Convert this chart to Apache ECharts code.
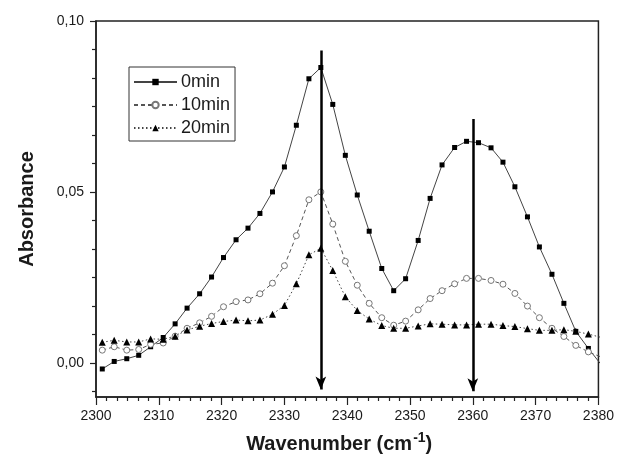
<!DOCTYPE html>
<html>
<head>
<meta charset="utf-8">
<script src="https://cdn.jsdelivr.net/npm/echarts@6/dist/echarts.min.js"></script>
<style>
  html, body { margin: 0; padding: 0; background: #fff; }
  #chart { width: 617px; height: 468px; }
</style>
</head>
<body>
<div id="chart"></div>
<script>
// Wavenumber positions of the recorded spectral points (cm^-1)
const wavenumber = [
  2301.0, 2302.9, 2304.9, 2306.8, 2308.7, 2310.7, 2312.6, 2314.5, 2316.5, 2318.4,
  2320.3, 2322.3, 2324.2, 2326.1, 2328.1, 2330.0, 2331.9, 2333.9, 2335.8, 2337.7,
  2339.7, 2341.6, 2343.5, 2345.5, 2347.4, 2349.3, 2351.3, 2353.2, 2355.1, 2357.1,
  2359.0, 2360.9, 2362.9, 2364.8, 2366.7, 2368.7, 2370.6, 2372.6, 2374.5, 2376.4,
  2378.4, 2380.3
];

// Absorbance after 0, 10 and 20 minutes
const abs0min = [
  -0.0018, 0.0004, 0.0012, 0.0022, 0.0047, 0.0074, 0.0114, 0.0160, 0.0202, 0.0251,
  0.0308, 0.0360, 0.0394, 0.0437, 0.0500, 0.0573, 0.0695, 0.0831, 0.0864, 0.0756,
  0.0607, 0.0491, 0.0385, 0.0276, 0.0211, 0.0246, 0.0358, 0.0481, 0.0579, 0.0630,
  0.0648, 0.0644, 0.0629, 0.0587, 0.0515, 0.0427, 0.0339, 0.0259, 0.0174, 0.0092,
  0.0042, -0.0002
];
const abs10min = [
  0.0037, 0.0047, 0.0037, 0.0039, 0.0054, 0.0058, 0.0078, 0.0101, 0.0117, 0.0136,
  0.0164, 0.0179, 0.0184, 0.0202, 0.0233, 0.0284, 0.0372, 0.0477, 0.0500, 0.0406,
  0.0297, 0.0227, 0.0174, 0.0132, 0.0110, 0.0122, 0.0155, 0.0188, 0.0211, 0.0231,
  0.0247, 0.0247, 0.0241, 0.0230, 0.0203, 0.0166, 0.0132, 0.0101, 0.0077, 0.0051,
  0.0032, 0.0018
];
const abs20min = [
  0.0060, 0.0066, 0.0061, 0.0061, 0.0070, 0.0069, 0.0078, 0.0096, 0.0107, 0.0115,
  0.0121, 0.0125, 0.0123, 0.0125, 0.0142, 0.0168, 0.0231, 0.0316, 0.0335, 0.0270,
  0.0193, 0.0153, 0.0128, 0.0109, 0.0101, 0.0101, 0.0108, 0.0114, 0.0113, 0.0111,
  0.0111, 0.0113, 0.0113, 0.0109, 0.0106, 0.0100, 0.0095, 0.0095, 0.0097, 0.0092,
  0.0084, 0.0075
];

const seriesNames = ['0min', '10min', '20min'];

// Vertical arrows marking the two band maxima
const arrowX = [2335.8, 2360.0];
const arrowTop = [0.0914, 0.0713];
const arrowBottom = [-0.0078, -0.0083];

// Axis ticks
const yMajorTicks = [0.00, 0.05, 0.10];
const yMinorTicks = [];
for (let i = -1; i <= 12; i++) {
  const v = +(i * 0.05 / 6).toFixed(5);
  if (i % 6 !== 0 && v >= -0.01 && v <= 0.10) yMinorTicks.push(v);
}

const FONT = 'Liberation Sans, Arial, sans-serif';
const INK = '#1a1a1a';

function pairs(ys) {
  return wavenumber.map((x, i) => [x, ys[i]]);
}

const chart = echarts.init(document.getElementById('chart'), null, { renderer: 'canvas' });

chart.setOption({
  animation: false,
  backgroundColor: '#ffffff',
  grid: {
    left: 96, right: 17, top: 21, bottom: 71,
    show: true, borderColor: '#222', borderWidth: 1.5, backgroundColor: 'transparent'
  },
  legend: {
    data: seriesNames,
    orient: 'vertical',
    left: 129, top: 67,
    padding: [6, 5, 4, 4],
    itemGap: 5,
    itemWidth: 43,
    itemHeight: 8,
    borderColor: '#333',
    borderWidth: 1,
    textStyle: { fontFamily: FONT, fontSize: 18, color: INK, padding: [0, 0, 0, -1] }
  },
  xAxis: {
    type: 'value',
    min: 2300, max: 2380, interval: 10,
    name: '{t|Wavenumber (cm}{s|-1}{t|)}',
    nameLocation: 'middle',
    nameGap: 34,
    nameTextStyle: {
      padding: [0, 16, 0, 0],
      rich: {
        t: { fontFamily: FONT, fontSize: 20, fontWeight: 'bold', color: INK },
        s: { fontFamily: FONT, fontSize: 14, fontWeight: 'bold', color: INK, padding: [0, 0, 12, 1] }
      }
    },
    axisLine: { show: true, onZero: false, lineStyle: { color: '#222', width: 1.5 } },
    axisTick: { show: true, inside: false, length: 8, lineStyle: { color: '#222', width: 1.2 } },
    minorTick: { show: true, splitNumber: 6, length: 4, lineStyle: { color: '#222', width: 1.2 } },
    splitLine: { show: false },
    axisLabel: {
      fontFamily: FONT, fontSize: 14, color: INK, margin: 12,
      formatter: v => String(Math.round(v))
    }
  },
  yAxis: [
    {
      type: 'value',
      min: -0.01, max: 0.10,
      name: 'Absorbance',
      nameLocation: 'middle',
      nameGap: 59,
      nameTextStyle: { fontFamily: FONT, fontSize: 20, fontWeight: 'bold', color: INK },
      axisLine: { show: true, onZero: false, lineStyle: { color: '#222', width: 1.5 } },
      axisTick: { show: true, inside: false, length: 6, customValues: yMajorTicks, lineStyle: { color: '#222', width: 1.2 } },
      splitLine: { show: false },
      axisLabel: {
        fontFamily: FONT, fontSize: 14, color: INK, margin: 12,
        customValues: yMajorTicks,
        formatter: v => v.toFixed(2).replace('.', ',')
      }
    },
    {
      type: 'value',
      min: -0.01, max: 0.10,
      position: 'left',
      axisLine: { show: false },
      axisTick: { show: true, inside: false, length: 4, customValues: yMinorTicks, lineStyle: { color: '#222', width: 1.2 } },
      axisLabel: { show: false },
      splitLine: { show: false }
    }
  ],
  series: [
    {
      name: seriesNames[0], type: 'line', data: pairs(abs0min),
      symbol: 'rect', symbolSize: 5,
      itemStyle: { color: '#000' },
      lineStyle: { color: '#444', width: 1, type: 'solid' }
    },
    {
      name: seriesNames[1], type: 'line', data: pairs(abs10min),
      symbol: 'circle', symbolSize: 6,
      itemStyle: { color: '#fff', borderColor: '#777', borderWidth: 1 },
      lineStyle: { color: '#555', width: 1, type: [4, 3] }
    },
    {
      name: seriesNames[2], type: 'line', data: pairs(abs20min),
      symbol: 'triangle', symbolSize: 7,
      itemStyle: { color: '#000' },
      lineStyle: { color: '#444', width: 1, type: [1.5, 2.5] }
    },
    {
      name: 'arrows', type: 'line', data: [],
      markLine: {
        silent: true,
        symbol: ['none', 'arrow'],
        symbolSize: [8, 13],
        label: { show: false },
        lineStyle: { color: '#000', width: 2.5, type: 'solid' },
        data: arrowX.map((x, i) => [
          { coord: [x, arrowTop[i]] },
          { coord: [x, arrowBottom[i]] }
        ])
      }
    }
  ]
});
</script>
</body>
</html>
